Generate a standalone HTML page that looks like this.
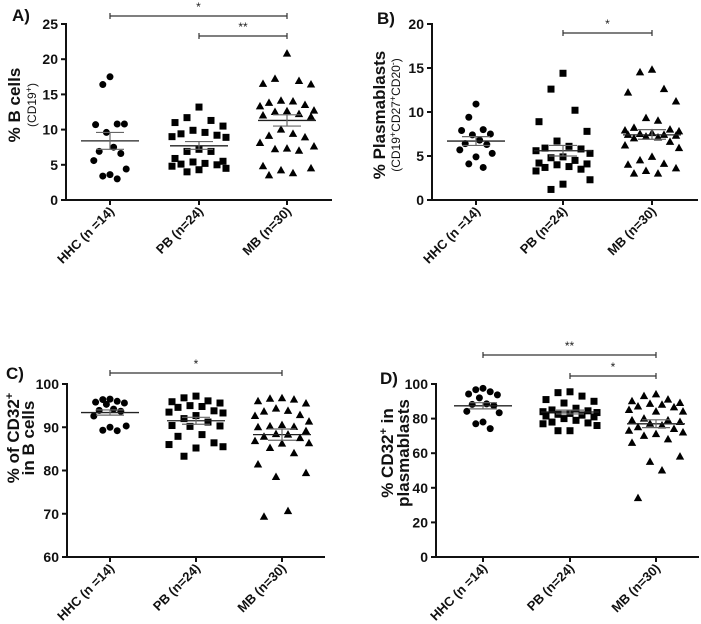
<!DOCTYPE html>
<html><head><meta charset="utf-8">
<style>
html,body{margin:0;padding:0;background:#fff;}
svg{display:block;font-family:"Liberation Sans",Arial,sans-serif;}
.t{font-size:14px;font-weight:bold;fill:#111;}
.x{font-size:13px;font-weight:bold;fill:#111;}
</style></head>
<body>
<svg id="fig" width="701" height="624" viewBox="0 0 701 624"></svg>
<script>
const categories = ["HHC (n =14)", "PB (n=24)", "MB (n=30)"];
const aHHC = [17.5,16.4,10.8,10.7,10.8,9.6,7.5,6.9,6.6,5.6,4.4,3.6,3.4,3.0];
const aPB = [13.2,11.7,11.3,11.0,10.5,9.9,9.6,9.4,9.2,9.0,8.9,7.2,6.9,6.9,5.9,5.5,5.4,5.2,5.1,5.0,4.8,4.5,4.3,4.0];
const aMB = [20.8,17.2,16.9,16.5,16.4,14.1,14.0,13.8,13.5,13.3,12.7,12.6,12.5,12.2,12.0,11.8,10.0,9.4,9.1,8.9,8.1,7.6,7.3,7.2,7.0,4.8,4.5,4.2,3.8,3.5];
const aStats = [[8.4,9.6,7.2],[7.7,8.3,7.2],[11.3,12.1,10.5]];
const aTicks = [0,5,10,15,20,25];
const bHHC = [10.9,9.4,8.0,7.9,7.5,7.4,6.8,6.4,6.3,5.7,5.3,4.9,4.1,3.7];
const bPB = [14.4,12.6,10.2,8.9,7.8,6.7,6.1,5.9,5.8,5.6,5.3,4.9,4.8,4.5,4.2,4.1,4.0,3.8,3.7,3.5,3.3,2.3,1.8,1.2];
const bMB = [14.8,14.5,12.6,12.2,11.2,9.3,9.0,8.2,8.0,7.9,7.8,7.6,7.5,7.4,7.4,7.3,7.2,7.1,7.0,6.6,6.2,5.9,4.9,4.5,4.1,4.0,3.6,3.3,3.0,3.0];
const bStats = [[6.7,7.2,6.2],[5.6,6.2,5.0],[7.4,8.0,6.9]];
const bTicks = [0,5,10,15,20];
const cHHC = [96.5,96.4,96.0,95.8,95.6,95.3,94.2,93.9,93.7,92.6,90.3,90.0,89.3,89.2];
const cPB = [97.2,96.8,96.1,95.9,95.6,95.0,94.8,94.6,93.8,93.5,93.3,92.7,92.0,91.2,90.4,90.3,90.2,88.3,87.9,86.4,86.0,85.5,85.2,83.3];
const cMB = [96.7,96.6,96.4,96.0,95.5,94.3,93.8,93.6,92.8,92.6,91.3,90.5,90.2,90.1,90.0,89.1,88.4,88.3,87.8,87.5,86.8,86.3,86.2,85.2,84.0,81.4,79.4,78.5,70.6,69.3];
const cStats = [[93.4,94.0,92.8],[91.5,92.3,90.7],[88.3,89.6,87.0]];
const cTicks = [60,70,80,90,100];
const dHHC = [97.5,96.7,95.5,94.2,93.7,92.0,88.5,88.2,87.5,84.2,83.4,78.0,77.0,74.2];
const dPB = [95.5,95,93,91,90,89,86,85,84.5,84,83.5,83,82.5,82,81.5,81,80,79,78,77.5,77,76,73,73];
const dMB = [94,93,91,90,89,88.5,88,87,86.5,85,84,84,80,79,79,78,77,76,75,74,73,72,71,70,68,66,58,55,50,34];
const dStats = [[87.4,89.2,85.6],[83.8,84.9,82.7],[77,79.3,74.8]];
const dTicks = [0,20,40,60,80,100];

const NS="http://www.w3.org/2000/svg";
const svg=document.getElementById('fig');
function mk(tag,attrs,parent){const e=document.createElementNS(NS,tag);for(const k in attrs)e.setAttribute(k,attrs[k]);(parent||svg).appendChild(e);return e;}
const jit=[0,-12,12,-24,24,-6,6,-18,18,-27,27];

function panel(p){
  const g=mk('g',{});
  
  
  const y=v=>p.y0-(v-p.vmin)*(p.y0-p.y1)/(p.vmax-p.vmin);
  const ax=mk('line',{x1:p.ax,y1:y(p.vmax)-1,x2:p.ax,y2:p.y0+1,stroke:'#111','stroke-width':2},g);
  
  const bx=mk('line',{x1:p.ax-1,y1:p.y0,x2:p.xend,y2:p.y0,stroke:'#111','stroke-width':2},g);
  
  p.ticks.forEach(t=>{
    mk('line',{x1:p.ax-5,y1:y(t),x2:p.ax,y2:y(t),stroke:'#111','stroke-width':2},g);
    const tx=mk('text',{x:p.ax-8,y:y(t)+5,'text-anchor':'end',class:'t'},g);
    tx.textContent=t;
    
  });
  categories.forEach((c,i)=>{
    const cx=p.cx[i];
    mk('line',{x1:cx,y1:p.y0,x2:cx,y2:p.y0+5,stroke:'#111','stroke-width':2},g);
    const tx=mk('text',{x:cx+5,y:p.y0+12,'text-anchor':'end',class:'x',transform:`rotate(-45 ${cx+5} ${p.y0+12})`},g);
    tx.textContent=c;
    
    const sc=i===0?0.6:1;
    p.series[i].forEach((v,j)=>{
      const px=cx+jit[j%jit.length]*sc, py=y(v);
      let m;
      if(i===0) m=mk('circle',{cx:px,cy:py,r:3.5,fill:'#000'},g);
      else if(i===1) m=mk('rect',{x:px-3.5,y:py-3.5,width:7,height:7,fill:'#000'},g);
      else m=mk('polygon',{points:`${px},${py-4.5} ${px-4.2},${py+3} ${px+4.2},${py+3}`,fill:'#000'},g);
      
      
    });
    const s=p.stats[i];
    const ml=mk('line',{x1:cx-29,y1:y(s[0]),x2:cx+29,y2:y(s[0]),stroke:'#222','stroke-width':1.3},g);
    
    mk('line',{x1:cx,y1:y(s[1]),x2:cx,y2:y(s[2]),stroke:'#666','stroke-width':1.2},g);
    mk('line',{x1:cx-14,y1:y(s[1]),x2:cx+14,y2:y(s[1]),stroke:'#666','stroke-width':1.2},g);
    mk('line',{x1:cx-14,y1:y(s[2]),x2:cx+14,y2:y(s[2]),stroke:'#666','stroke-width':1.2},g);
  });
  p.sig.forEach(s=>{
    const x1=p.cx[s[0]],x2=p.cx[s[1]],yy=s[2];
    const l=mk('path',{d:`M${x1},${yy-3}V${yy+3}M${x1},${yy}H${x2}M${x2},${yy-3}V${yy+3}`,stroke:'#333','stroke-width':1.2,fill:'none'},g);
    
    const t=mk('text',{x:(x1+x2)/2,y:yy-5,'text-anchor':'middle','font-size':'12px',fill:'#222'},g);
    t.textContent=s[3];
    
  });
  const lb=mk('text',{x:p.lab[0],y:p.lab[1],'font-size':'17px','font-weight':'bold',fill:'#111'},g);
  lb.textContent=p.id+')';
  
  const yt=mk('text',{transform:`translate(${p.ttl[0]} ${p.ttl[1]}) rotate(-90)`,'text-anchor':'middle',fill:'#111'},g);
  
  yt.innerHTML=p.title;
}

panel({id:'A',ax:66,xend:332,y0:200,y1:24,vmin:0,vmax:25,cx:[110,199,287],ticks:aTicks,series:[aHHC,aPB,aMB],stats:aStats,
  sig:[[0,2,16,'*'],[1,2,36,'**']],lab:[12,21],ttl:[20,105],
  title:'<tspan x="0" dy="0" font-size="17" font-weight="bold">% B cells</tspan><tspan x="0" dy="16" font-size="12">(CD19<tspan dy="-4" font-size="9">+</tspan><tspan dy="4">)</tspan></tspan>'});
panel({id:'B',ax:432,xend:698,y0:200,y1:24,vmin:0,vmax:20,cx:[476,563,652],ticks:bTicks,series:[bHHC,bPB,bMB],stats:bStats,
  sig:[[1,2,33,'*']],lab:[377,24],ttl:[385,115],
  title:'<tspan x="0" dy="0" font-size="17" font-weight="bold">% Plasmablasts</tspan><tspan x="0" dy="15" font-size="12">(CD19<tspan dy="-4" font-size="9">+</tspan><tspan dy="4">CD27</tspan><tspan dy="-4" font-size="9">+</tspan><tspan dy="4">CD20</tspan><tspan dy="-4" font-size="9">-</tspan><tspan dy="4">)</tspan></tspan>'});
panel({id:'C',ax:67,xend:325,y0:557,y1:384,vmin:60,vmax:100,cx:[110,196,282],ticks:cTicks,series:[cHHC,cPB,cMB],stats:cStats,
  sig:[[0,2,373,'*']],lab:[6,379],ttl:[19,438],
  title:'<tspan x="0" dy="0" font-size="17" font-weight="bold">% of CD32<tspan dy="-6" font-size="11">+</tspan></tspan><tspan x="0" dy="21" font-size="17" font-weight="bold">in B cells</tspan>'});
panel({id:'D',ax:436,xend:699,y0:557,y1:384,vmin:0,vmax:100,cx:[483,570,656],ticks:dTicks,series:[dHHC,dPB,dMB],stats:dStats,
  sig:[[0,2,355,'**'],[1,2,376,'*']],lab:[380,384],ttl:[393,453],
  title:'<tspan x="0" dy="0" font-size="17" font-weight="bold">% CD32<tspan dy="-6" font-size="11">+</tspan><tspan dy="6"> in</tspan></tspan><tspan x="0" dy="16" font-size="17" font-weight="bold">plasmablasts</tspan>'});
</script>
</body></html>
